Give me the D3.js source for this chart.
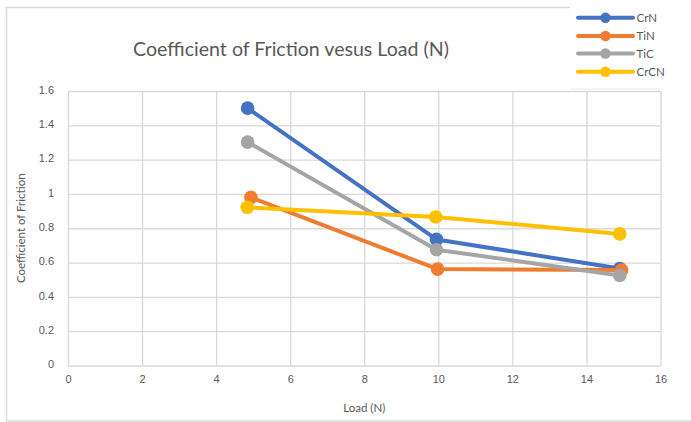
<!DOCTYPE html>
<html>
<head>
<meta charset="utf-8">
<script src="https://cdn.jsdelivr.net/npm/d3@7"></script>
<style>
  html, body { margin: 0; padding: 0; background: #fff; }
  svg { display: block; font-family: Lato, "Open Sans", "Liberation Sans", sans-serif; }
</style>
</head>
<body>
<svg id="chart" width="691" height="422"></svg>
<script>
// Coefficient of friction measured at three loads for four coatings
const seriesNames = ["CrN", "TiN", "TiC", "CrCN"];
const seriesColors = ["#4472C4", "#ED7D31", "#A5A5A5", "#FFC000"];
const loadCrN = [4.85, 9.95, 14.9];
const loadTiN = [4.94, 9.98, 14.95];
const loadTiC = [4.85, 9.95, 14.9];
const loadCrCN = [4.84, 9.93, 14.9];
const cofCrN = [1.5, 0.735, 0.565];
const cofTiN = [0.98, 0.562, 0.556];
const cofTiC = [1.302, 0.675, 0.525];
const cofCrCN = [0.922, 0.866, 0.767];
const xTicks = [0, 2, 4, 6, 8, 10, 12, 14, 16];
const yTicks = [0, 0.2, 0.4, 0.6, 0.8, 1, 1.2, 1.4, 1.6];

const loads = [loadCrN, loadTiN, loadTiC, loadCrCN];
const cofs = [cofCrN, cofTiN, cofTiC, cofCrCN];
const series = seriesNames.map((name, i) => ({
  name,
  color: seriesColors[i],
  points: loads[i].map((x, j) => ({ x, y: cofs[i][j] }))
}));

const svg = d3.select("#chart");
const grid = "#d9d9d9";
const textColor = "#595959";

// chart frame
svg.append("rect")
  .attr("x", 6.5).attr("y", 7.5).attr("width", 720).attr("height", 413.5)
  .attr("fill", "#fff").attr("stroke", grid).attr("stroke-width", 1.5);

const plot = { left: 68, right: 660.5, top: 91, bottom: 365.5 };
const x = d3.scaleLinear().domain([0, 16]).range([plot.left, plot.right]);
const y = d3.scaleLinear().domain([0, 1.6]).range([plot.bottom, plot.top]);

// gridlines
const xAxis = d3.axisBottom(x).tickValues(xTicks).tickSize(-(plot.bottom - plot.top)).tickFormat(d3.format("d")).tickPadding(10);
const yAxis = d3.axisLeft(y).tickValues(yTicks).tickSize(-(plot.right - plot.left)).tickFormat(d => d3.format("")(d)).tickPadding(14);

const gx = svg.append("g").attr("transform", `translate(0,${plot.bottom})`).call(xAxis);
const gy = svg.append("g").attr("transform", `translate(${plot.left},0)`).call(yAxis);
[gx, gy].forEach(g => {
  g.select(".domain").remove();
  g.selectAll(".tick line").attr("stroke", grid).attr("stroke-width", 1.3);
  g.selectAll(".tick text").attr("fill", textColor).attr("font-size", 11);
});
gy.selectAll(".tick text").attr("dy", "0.2em");

// axis titles
svg.append("text")
  .attr("x", (plot.left + plot.right) / 2).attr("y", 412)
  .attr("text-anchor", "middle").attr("fill", textColor).attr("font-size", 11.5)
  .text("Load (N)");
svg.append("text")
  .attr("transform", `translate(25,${(plot.top + plot.bottom) / 2}) rotate(-90)`)
  .attr("text-anchor", "middle").attr("fill", textColor).attr("font-size", 11.5)
  .text("Coefficient of Friction");

// chart title, sized to its set width
const title = svg.append("text")
  .attr("x", 291).attr("y", 56)
  .attr("text-anchor", "middle").attr("fill", textColor).attr("font-size", 18)
  .text("Coefficient of Friction vesus Load (N)");
const tw = title.node().getComputedTextLength();
title.attr("font-size", 18 * 316 / tw);

// series lines and markers
const line = d3.line().x(d => x(d.x)).y(d => y(d.y));
const gs = svg.append("g").selectAll("g").data(series).join("g");
gs.append("path")
  .attr("d", d => line(d.points))
  .attr("fill", "none").attr("stroke", d => d.color).attr("stroke-width", 4)
  .attr("stroke-linejoin", "round");
gs.selectAll("circle").data(d => d.points.map(p => ({ ...p, color: d.color }))).join("circle")
  .attr("cx", d => x(d.x)).attr("cy", d => y(d.y)).attr("r", 6.8)
  .attr("fill", d => d.color);

// legend
const legend = svg.append("g");
legend.append("rect")
  .attr("x", 570).attr("y", 0).attr("width", 130).attr("height", 89)
  .attr("fill", "#fff");
legend.append("line")
  .attr("x1", 570).attr("x2", 660).attr("y1", 89).attr("y2", 89)
  .attr("stroke", "#ececec").attr("stroke-width", 1.2);
const rowY = [17.7, 36, 53.5, 71.7];
const rows = legend.selectAll("g.row").data(series).join("g")
  .attr("class", "row")
  .attr("transform", (d, i) => `translate(0,${rowY[i]})`);
rows.append("line")
  .attr("x1", 578).attr("x2", 633).attr("y1", 0).attr("y2", 0)
  .attr("stroke", d => d.color).attr("stroke-width", 4).attr("stroke-linecap", "round");
rows.append("circle")
  .attr("cx", 605.5).attr("cy", 0).attr("r", 5.2).attr("fill", d => d.color);
rows.append("text")
  .attr("x", 636.5).attr("y", 0).attr("dy", "0.35em")
  .attr("fill", textColor).attr("font-size", 11.5)
  .text(d => d.name);
</script>
</body>
</html>
